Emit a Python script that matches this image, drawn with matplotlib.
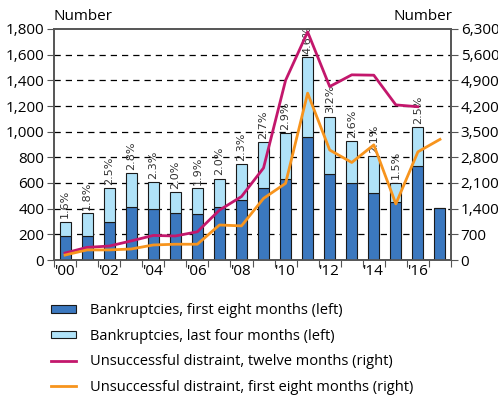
import numpy as np
import matplotlib.pyplot as plt
from matplotlib.patches import Patch
from matplotlib.lines import Line2D

plt.rcParams['font.family'] = ['Open Sans', 'DejaVu Sans']

# Datos
years = list(range(2000, 2018))
first_eight = [190, 190, 295, 410, 400, 365, 360, 410, 470, 560, 630, 955, 668, 598, 525, 455, 735, 408]
total = [300, 365, 560, 675, 610, 530, 560, 635, 750, 917, 987, 1584, 1117, 927, 808, 603, 1034, None]
pct_labels = ['1.6%', '1.8%', '2.5%', '2.8%', '2.3%', '2.0%', '1.9%', '2.0%', '2.3%', '2.7%',
              '2.9%', '4.6%', '3.2%', '2.6%', '2.1%', '1.5%', '2.5%', '']
distraint_12 = [190, 345, 380, 520, 670, 655, 770, 1360, 1730, 2510, 4900, 6220, 4730, 5050, 5040, 4230, 4180]
distraint_8 = [135, 275, 275, 300, 410, 430, 430, 955, 930, 1680, 2090, 4550, 3000, 2660, 3140, 1530, 2950, 3290]
xticklabels = ["'00", "'02", "'04", "'06", "'08", "'10", "'12", "'14", "'16"]

dark_blue = '#3b78bf'
light_blue = '#b0e2f8'
magenta = '#c3176c'
orange = '#f7941d'
axis_gray = '#555555'

fig = plt.figure(figsize=(4.98, 4.03), dpi=100)
ax = fig.add_axes([54 / 498, 1 - 260 / 403, 397 / 498, 231 / 403])

x = np.arange(len(years))
last_four = [t - f if t is not None else 0 for t, f in zip(total, first_eight)]

ax.bar(x, first_eight, width=0.5, color=dark_blue, edgecolor='#1a1a1a', linewidth=0.8, zorder=3)
ax.bar(x, last_four, width=0.5, bottom=first_eight, color=light_blue, edgecolor='#1a1a1a',
       linewidth=0.8, zorder=3)

# Etiquetas de porcentaje sobre las barras
for xi, t, lab in zip(x, total, pct_labels):
    if t is None or not lab:
        continue
    ax.text(xi, t + 25, lab, rotation=90, ha='center', va='bottom', fontsize=8,
            family='DejaVu Sans', color='#333333', zorder=4)

ax.set_xlim(-0.5, len(years) - 0.5)
ax.set_ylim(0, 1800)
ax.set_yticks(np.arange(0, 1801, 200))
ax.set_yticklabels([f'{v:,}' for v in range(0, 1801, 200)])
ax.set_xticks(np.arange(-0.5, len(years), 1))
ax.set_xticklabels([])
ax.set_xticks(np.arange(0, len(years), 2), minor=True)
ax.set_xticklabels(xticklabels, minor=True)
ax.tick_params(axis='x', which='major', length=5, direction='out', color=axis_gray)
ax.tick_params(axis='x', which='minor', length=0, labelsize=11, pad=3)
ax.tick_params(axis='y', length=5, direction='out', color=axis_gray, labelsize=11, pad=2)

for v in range(200, 1800, 200):
    ax.axhline(v, color='black', linestyle=(0, (5, 4)), linewidth=0.9, zorder=1)

for s in ax.spines.values():
    s.set_color(axis_gray)
    s.set_linewidth(1.2)

ax2 = ax.twinx()
ax2.plot(x[:len(distraint_12)], distraint_12, color=magenta, linewidth=2, zorder=5)
ax2.plot(x[:len(distraint_8)], distraint_8, color=orange, linewidth=2, zorder=5)
ax2.set_ylim(0, 6300)
ax2.set_yticks(np.arange(0, 6301, 700))
ax2.set_yticklabels([f'{v:,}' for v in range(0, 6301, 700)])
ax2.tick_params(axis='y', length=5, direction='out', color=axis_gray, labelsize=11, pad=2)
for s in ax2.spines.values():
    s.set_color(axis_gray)
    s.set_linewidth(1.2)

fig.text(53 / 498, 1 - 16 / 403, 'Number', ha='left', va='center', fontsize=11)
fig.text(452 / 498, 1 - 16 / 403, 'Number', ha='right', va='center', fontsize=11)

# Leyenda
handles = [
    Patch(facecolor=dark_blue, edgecolor='#1a1a1a', linewidth=0.8),
    Patch(facecolor=light_blue, edgecolor='#1a1a1a', linewidth=0.8),
    Line2D([], [], color=magenta, linewidth=2),
    Line2D([], [], color=orange, linewidth=2),
]
labels = [
    'Bankruptcies, first eight months (left)',
    'Bankruptcies, last four months (left)',
    'Unsuccessful distraint, twelve months (right)',
    'Unsuccessful distraint, first eight months (right)',
]
fig.legend(handles, labels, loc='upper left', bbox_to_anchor=(51 / 498, 1 - 303 / 403),
           frameon=False, fontsize=10.5, handlelength=1.7, handleheight=0.45,
           handletextpad=0.95, labelspacing=0.73, borderpad=0, borderaxespad=0)

fig.savefig('out.png', dpi=100)
